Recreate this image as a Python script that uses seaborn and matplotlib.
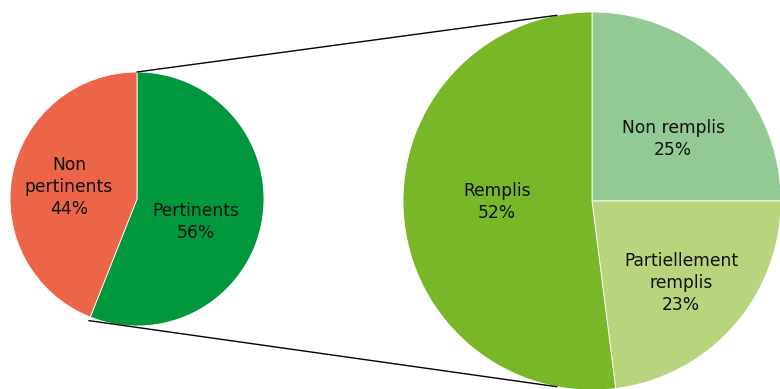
import numpy as np
import matplotlib
matplotlib.use("Agg")
import matplotlib.pyplot as plt
import seaborn as sns

# Overall split of the documents
main_labels = ["Pertinents", "Non\npertinents"]
main_values = [56, 44]
main_colors = ["#00973D", "#EC6548"]

# Breakdown of the "Pertinents" share
sub_labels = ["Non remplis", "Partiellement\nremplis", "Remplis"]
sub_values = [25, 23, 52]
sub_colors = ["#93C995", "#B8D47D", "#78B727"]

sns.set_theme(style="white")
plt.rcParams["font.family"] = ["DejaVu Sans"]

W, H = 780, 389
fig = plt.figure(figsize=(W / 100, H / 100), dpi=100)
ax = fig.add_axes([0, 0, 1, 1])

left_c, left_r = (137, 190), 127
right_c, right_r = (592, 188), 189

wedges_l, _ = ax.pie(main_values, colors=main_colors, startangle=90,
                     counterclock=False, center=left_c, radius=left_r,
                     wedgeprops=dict(edgecolor="white", linewidth=0.6))
wedges_r, _ = ax.pie(sub_values, colors=sub_colors, startangle=90,
                     counterclock=False, center=right_c, radius=right_r,
                     wedgeprops=dict(edgecolor="white", linewidth=0.6))

ax.set_xlim(0, W)
ax.set_ylim(0, H)
ax.set_aspect("equal")
ax.axis("off")


def polar(c, r, deg):
    t = np.deg2rad(deg)
    return c[0] + r * np.cos(t), c[1] + r * np.sin(t)


# Connector lines from the "Pertinents" wedge to the detail pie
w = wedges_l[0]
p_top = polar(left_c, left_r, w.theta2)
p_bot = polar(left_c, left_r * 1.03, w.theta1)
q_top = polar(right_c, right_r, 100.7)
q_bot = polar(right_c, right_r, 259.3)
ax.plot([p_top[0], q_top[0]], [p_top[1], q_top[1]], color="black", lw=1.0)
ax.plot([p_bot[0], q_bot[0]], [p_bot[1], q_bot[1]], color="black", lw=1.0)

txt = dict(ha="center", va="center", fontsize=12.3, color="#111111",
           linespacing=1.3)

# Label offsets (in pixels from each pie centre)
main_off = [(59, -23), (-68, 12)]
sub_off = [(81, 62), (89, -82), (-95, -1)]

for lab, v, (dx, dy) in zip(main_labels, main_values, main_off):
    ax.text(left_c[0] + dx, left_c[1] + dy, f"{lab}\n{v}%", **txt)
for lab, v, (dx, dy) in zip(sub_labels, sub_values, sub_off):
    ax.text(right_c[0] + dx, right_c[1] + dy, f"{lab}\n{v}%", **txt)

fig.savefig("out.png", dpi=100, facecolor="white")
